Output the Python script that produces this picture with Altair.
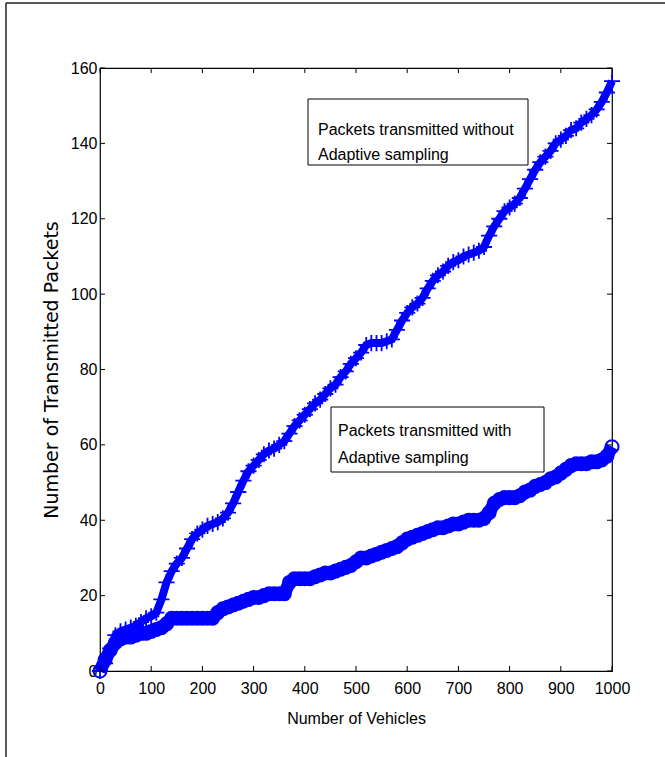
import altair as alt
import pandas as pd

# Vehicles at which the curves were read (every 10 vehicles)
vehicles = list(range(0, 1001, 10))

# Packets transmitted without adaptive sampling ("+" markers)
without_adaptive = [
    0, 2, 6, 9.5, 10.5, 11, 11.5, 12, 13, 14,
    14.5, 15.5, 19, 23.5, 26.5, 28.5, 30, 32.5, 35, 36.5,
    37.5, 38.5, 39, 39.5, 40.5, 42, 44.5, 47.5, 50.5, 53,
    54.5, 56, 57.5, 58.5, 59, 60, 61, 63, 65, 66.5,
    68, 69.5, 71, 72, 73.5, 75, 76, 78, 79.5, 81.5,
    83, 84.5, 86.5, 87, 87, 87, 87.5, 88, 90.5, 93,
    95, 96.5, 97.5, 99, 101.5, 103.5, 105, 106, 107.5, 108.5,
    109, 110, 110.5, 111, 111.5, 112.5, 115.5, 118, 120, 122,
    123, 124, 125.5, 128, 130.5, 133, 135, 136.5, 138, 140,
    141, 142, 143.5, 144, 145.5, 146.5, 147.5, 149, 151, 153.5,
    156.5,
]

# Packets transmitted with adaptive sampling ("o" markers)
with_adaptive = [
    0, 3, 5.5, 7.5, 8.5, 9, 9, 9.5, 10, 10,
    10.5, 11, 11.5, 12.5, 14, 14, 14, 14, 14, 14,
    14, 14, 14, 15.5, 16.5, 17, 17.5, 18, 18.5, 19,
    19.5, 19.5, 20, 20.5, 20.5, 20.5, 20.5, 23.5, 24.5, 24.5,
    24.5, 24.5, 25, 25.5, 26, 26, 26.5, 27, 27.5, 28,
    29, 30, 30, 30.5, 31, 31.5, 32, 32.5, 33, 34,
    35, 35.5, 36, 36.5, 37, 37.5, 38, 38, 38.5, 39,
    39, 39.5, 40, 40, 40, 40.5, 42, 44.5, 45.5, 46,
    46, 46, 46.5, 47.5, 48, 49, 49.5, 50, 51, 51.5,
    52.5, 53.5, 54.5, 55, 55, 55, 55.5, 55.5, 56, 57,
    59.5,
]

x_ticks = [0, 100, 200, 300, 400, 500, 600, 700, 800, 900, 1000]
y_ticks = [0, 20, 40, 60, 80, 100, 120, 140, 160]

x_title = "Number of Vehicles"
y_title = "Number of Transmitted Packets"
note_without = ["Packets transmitted without", "Adaptive sampling"]
note_with = ["Packets transmitted with", "Adaptive sampling"]

W, H = 512, 603
BLUE = "#0000FF"
FONT = "Liberation Sans, Arial, sans-serif"

df_up = pd.DataFrame({"v": vehicles, "packets": without_adaptive})
df_lo = pd.DataFrame({"v": vehicles, "packets": with_adaptive})
df_xt = pd.DataFrame({"v": x_ticks})
df_yt = pd.DataFrame({"packets": y_ticks})
one = pd.DataFrame({"k": [0]})

xscale = alt.Scale(domain=[0, 1000], nice=False, zero=False)
yscale = alt.Scale(domain=[0, 160], nice=False, zero=False)

xaxis = alt.Axis(
    values=x_ticks, format="d", ticks=False, tickSize=0, domain=False, grid=False,
    labelFont=FONT, labelFontSize=16, labelColor="black", labelPadding=9,
    labelFlush=False, title=x_title, titleFont=FONT, titleFontSize=16,
    titleFontWeight="normal", titleColor="black", titlePadding=14,
)
yaxis = alt.Axis(
    values=y_ticks, format="d", ticks=False, tickSize=0, domain=False, grid=False,
    labelFont=FONT, labelFontSize=16, labelColor="black", labelPadding=3,
    labelFlush=False, title=y_title, titleFont="DejaVu Sans", titleFontSize=19,
    titleFontWeight="normal", titleColor="black", titlePadding=9,
)

X = alt.X("v:Q", scale=xscale, axis=xaxis)
Y = alt.Y("packets:Q", scale=yscale, axis=yaxis)

plus_shape = "M-1,0L1,0M0,-1L0,1"

up_line = alt.Chart(df_up).mark_line(color=BLUE, strokeWidth=8).encode(x=X, y=Y)
up_pts = alt.Chart(df_up).mark_point(
    shape=plus_shape, color=BLUE, filled=False, size=260, strokeWidth=1.8, opacity=1
).encode(x=X, y=Y)

lo_line = alt.Chart(df_lo).mark_line(color=BLUE, strokeWidth=13).encode(x=X, y=Y)
lo_pts = alt.Chart(df_lo).mark_point(
    shape="circle", color=BLUE, filled=False, size=170, strokeWidth=2, opacity=1
).encode(x=X, y=Y)

# inward ticks on all four sides
tk = dict(color="black", strokeWidth=1)
t_bottom = alt.Chart(df_xt).mark_rule(**tk).encode(x=X, y=alt.value(H), y2=alt.value(H - 5))
t_top = alt.Chart(df_xt).mark_rule(**tk).encode(x=X, y=alt.value(0), y2=alt.value(5))
t_left = alt.Chart(df_yt).mark_rule(**tk).encode(y=Y, x=alt.value(0), x2=alt.value(5))
t_right = alt.Chart(df_yt).mark_rule(**tk).encode(y=Y, x=alt.value(W), x2=alt.value(W - 5))

def note(x0, x1, y0, y1, lines, tx, ty1, ty2):
    box = alt.Chart(one).mark_rect(fill="white", stroke="black", strokeWidth=1).encode(
        x=alt.value(x0), x2=alt.value(x1), y=alt.value(y0), y2=alt.value(y1)
    )
    t1 = alt.Chart(one).mark_text(
        align="left", baseline="alphabetic", font=FONT, fontSize=16, color="black"
    ).encode(x=alt.value(tx), y=alt.value(ty1), text=alt.value(lines[0]))
    t2 = alt.Chart(one).mark_text(
        align="left", baseline="alphabetic", font=FONT, fontSize=16, color="black"
    ).encode(x=alt.value(tx), y=alt.value(ty2), text=alt.value(lines[1]))
    return [box, t1, t2]

notes = note(208, 428, 31, 97, note_without, 218, 67, 92) + note(
    231, 444, 339, 404, note_with, 238, 368, 395
)

# outer figure frame (left and top edges)
frame_left = alt.Chart(one).mark_rule(color="#222", strokeWidth=1.5).encode(
    x=alt.value(-94), y=alt.value(-65), y2=alt.value(700)
)
frame_top = alt.Chart(one).mark_rule(color="#222", strokeWidth=1.5).encode(
    x=alt.value(-94), x2=alt.value(570), y=alt.value(-65)
)

chart = alt.layer(
    up_line, up_pts, lo_line, lo_pts, t_bottom, t_top, t_left, t_right,
    *notes, frame_left, frame_top,
).properties(
    width=W, height=H,
    autosize=alt.AutoSizeParams(type="none"),
    padding={"left": 100, "top": 68, "right": 53, "bottom": 86},
    background="white",
).configure_view(stroke="black", strokeWidth=1.2)

chart.save("out.html", embed_options={"renderer": "svg", "actions": False})
